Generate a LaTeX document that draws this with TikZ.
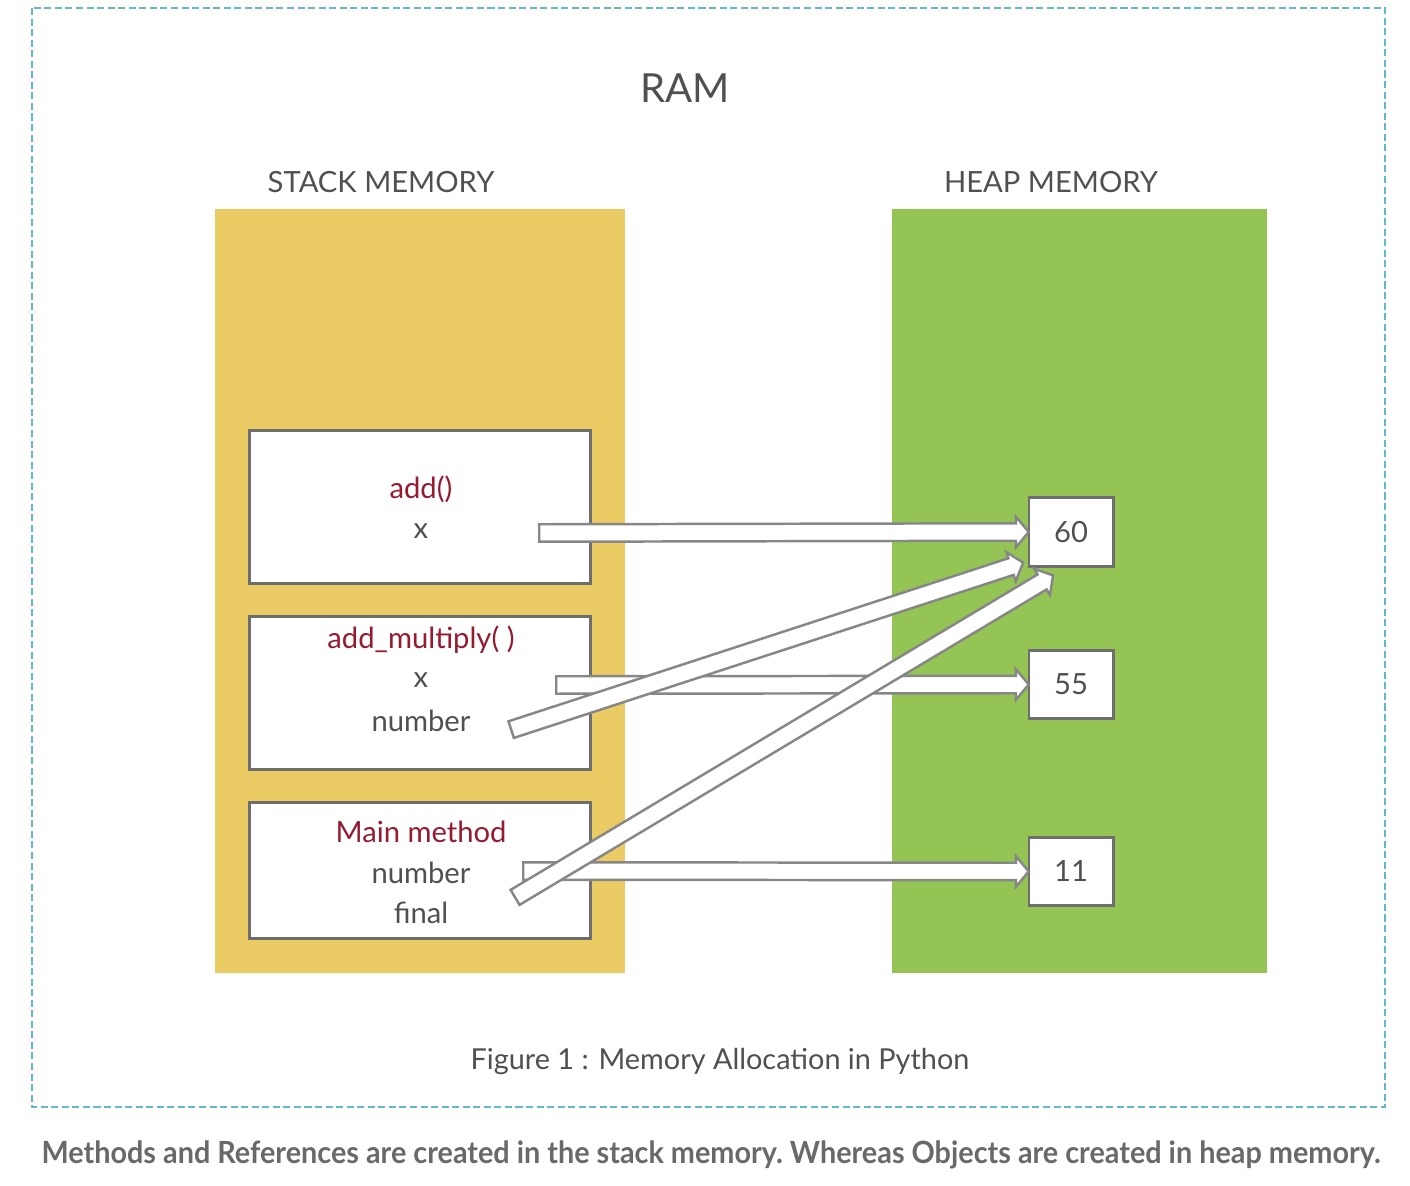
\documentclass[tikz,border=0pt]{standalone}
\usepackage{fontspec}
\setmainfont{Lato}
\usetikzlibrary{shapes.arrows,calc,positioning}
\definecolor{framecol}{RGB}{98,186,196}
\definecolor{stackcol}{RGB}{235,204,100}
\definecolor{heapcol}{RGB}{148,196,83}
\definecolor{boxgray}{RGB}{110,110,110}
\definecolor{arrowgray}{RGB}{135,135,135}
\definecolor{methodred}{RGB}{150,27,48}
\definecolor{textgray}{RGB}{80,80,80}
\definecolor{notegray}{RGB}{105,105,105}
\tikzset{
	membox/.style={draw=boxgray, line width=0.85pt, fill=white, inner sep=0pt},
	valbox/.style={membox, minimum width=0.84cm, minimum height=0.68cm, text=textgray, font=\fontsize{8.3}{10}\selectfont},
	methodtxt/.style={text=methodred, font=\fontsize{8.3}{10}\selectfont},
	vartxt/.style={text=textgray, font=\fontsize{8.3}{10}\selectfont},
	refarrow/.style={single arrow, draw=arrowgray, fill=white, line width=0.7pt, inner xsep=0pt, inner ysep=0.75mm,
		single arrow head extend=0.65mm, single arrow tip angle=100, anchor=tail}
}
% block arrow from one point to another
\newcommand{\refto}[2]{%
	\path let \p1=($(#2)-(#1)$), \n1={atan2(\y1,\x1)}, \n2={veclen(\x1,\y1)} in
		node[refarrow, minimum height=\n2, rotate=\n1] at (#1) {};
}

\begin{document}
\begin{tikzpicture}[x=0.01cm, y=-0.01cm]
	\useasboundingbox (0,0) rectangle (1410,1186);
	% Frame and titles
	\draw[framecol, line width=0.6pt, dash pattern=on 2pt off 1pt] (32,8) rectangle (1385,1107);
	\node[text=textgray, font=\fontsize{11.4}{14}\selectfont] (ram) at (685,88) {RAM};
	\node[text=textgray, font=\fontsize{8.3}{10}\selectfont] (stacklbl) at (381,182) {STACK MEMORY};
	\node[text=textgray, font=\fontsize{8.3}{10}\selectfont] (heaplbl) at (1051,182) {HEAP MEMORY};

	% Memory areas
	\fill[stackcol] (215,209) rectangle (625,973);
	\fill[heapcol] (892,209) rectangle (1267,973);

	% Stack frames
	\node[membox, minimum width=3.4cm, minimum height=1.52cm] (addbox) at (420,507) {};
	\node[membox, minimum width=3.4cm, minimum height=1.52cm] (mulbox) at (420,693) {};
	\node[membox, minimum width=3.4cm, minimum height=1.35cm] (mainbox) at (420,870.5) {};

	\node[methodtxt] (addname) at (421,489) {add()};
	\node[vartxt] (addx) at (421,531) {x};
	\node[methodtxt] (mulname) at (421,640) {add\_multiply( )};
	\node[vartxt] (mulx) at (421,680) {x};
	\node[vartxt] (mulnum) at (421,721) {number};
	\node[methodtxt] (mainname) at (421,832) {Main method};
	\node[vartxt] (mainnum) at (421,873) {number};
	\node[vartxt] (mainfin) at (421,913) {final};

	% Objects
	\node[valbox] (v60) at (1071,532) {60};
	\node[valbox] (v55) at (1071,684.5) {55};
	\node[valbox] (v11) at (1071,871.5) {11};

	% References
	\coordinate (t1) at (538,533); %add x
	\coordinate (t2) at (555,685); %add_multiply x
	\coordinate (t3) at (510,730); %add_multiply number
	\coordinate (t4) at (514,898); %main final
	\coordinate (t5) at (522,871); %main number
	\coordinate (h3) at (1022,563);
	\coordinate (h4) at (1052,576);

	\refto{t1}{v60.west}
	\refto{t2}{v55.west}
	\refto{t5}{v11.west}
	\refto{t3}{h3}
	\refto{t4}{h4}

	% Captions
	\node[text=textgray, font=\fontsize{8.2}{10}\selectfont] (fig) at (720,1062) {Figure 1 : Memory Allocation in Python};
	\node[text=notegray, font=\bfseries\fontsize{8.7}{10}\selectfont] (note) at (711,1155)
		{\resizebox{13.38cm}{\height}{\frenchspacing Methods and References are created in the stack memory. Whereas Objects are created in heap memory.}};
\end{tikzpicture}
\end{document}
